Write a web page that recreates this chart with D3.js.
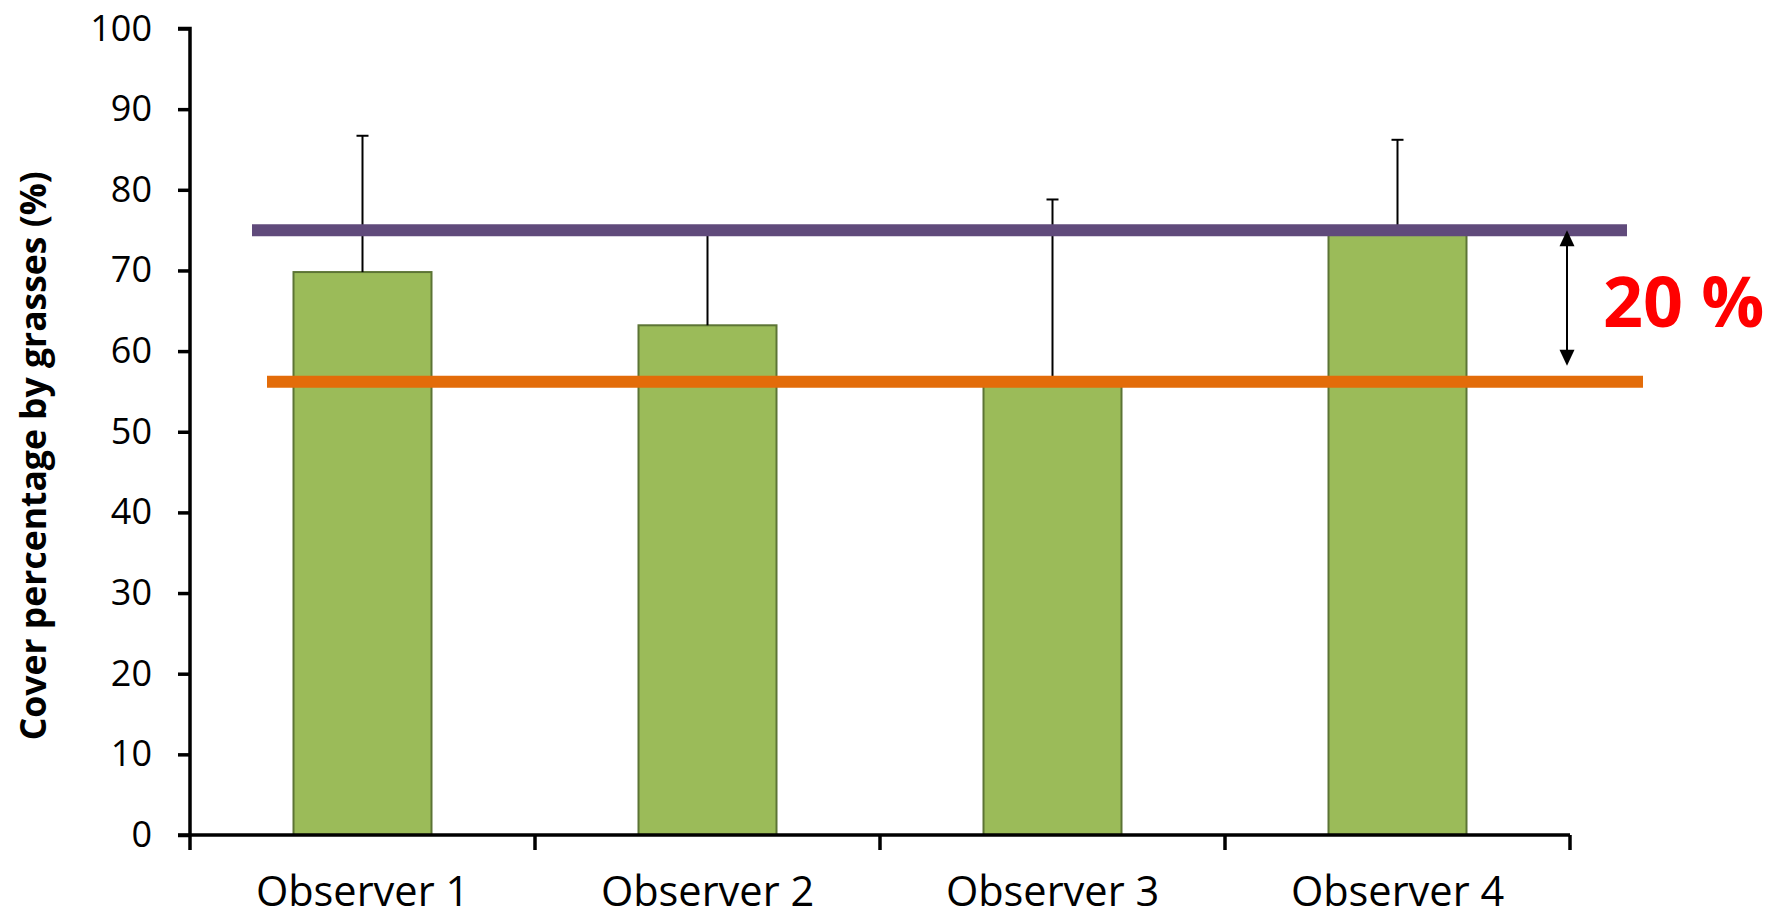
<!DOCTYPE html>
<html>
<head>
<meta charset="utf-8">
<script src="https://cdn.jsdelivr.net/npm/d3@7"></script>
<style>
  html, body { margin: 0; padding: 0; background: #ffffff; }
  svg { display: block; }
</style>
</head>
<body>
<svg id="chart" width="1771" height="917"></svg>
<script>
// ---- data ----
const categories = ["Observer 1", "Observer 2", "Observer 3", "Observer 4"];
const coverValues = [69.8, 63.2, 56.0, 74.8];
const errorTops = [86.7, 75.0, 78.8, 86.2];
const yTicks = [0, 10, 20, 30, 40, 50, 60, 70, 80, 90, 100];
const upperLine = 75.0;
const lowerLine = 56.2;
const diffLabel = "20 %";
const yTitle = "Cover percentage by grasses (%)";

// ---- layout ----
const svg = d3.select("#chart");
const plotLeft = 190, plotRight = 1570, plotTop = 28.5, plotBottom = 835;
const FONT = "'Open Sans', 'Noto Sans', sans-serif";

const x = d3.scaleBand().domain(categories).range([plotLeft, plotRight]).padding(0);
const y = d3.scaleLinear().domain([0, 100]).range([plotBottom, plotTop]);
const barW = x.bandwidth() * 0.4;

// bars
svg.append("g").selectAll("rect").data(categories).join("rect")
  .attr("x", d => x(d) + x.bandwidth() / 2 - barW / 2)
  .attr("y", (d, i) => y(coverValues[i]))
  .attr("width", barW)
  .attr("height", (d, i) => y(0) - y(coverValues[i]))
  .attr("fill", "#9BBB59")
  .attr("stroke", "#5C7435")
  .attr("stroke-width", 2);

// error bars
const eb = svg.append("g").attr("stroke", "#000").attr("stroke-width", 2);
categories.forEach((c, i) => {
  const cx = x(c) + x.bandwidth() / 2;
  eb.append("line").attr("x1", cx).attr("x2", cx)
    .attr("y1", y(coverValues[i])).attr("y2", y(errorTops[i]));
  eb.append("line").attr("x1", cx - 6).attr("x2", cx + 6)
    .attr("y1", y(errorTops[i])).attr("y2", y(errorTops[i]));
});

// reference lines
svg.append("line")
  .attr("x1", 252).attr("x2", 1627)
  .attr("y1", y(upperLine)).attr("y2", y(upperLine))
  .attr("stroke", "#604A7B").attr("stroke-width", 12);
svg.append("line")
  .attr("x1", 267).attr("x2", 1643)
  .attr("y1", y(lowerLine)).attr("y2", y(lowerLine))
  .attr("stroke", "#E36C09").attr("stroke-width", 12);

// y axis
const yAxis = d3.axisLeft(y).tickValues(yTicks).tickSize(12).tickPadding(26)
  .tickFormat(d3.format("d"));
const gy = svg.append("g").attr("transform", `translate(${plotLeft},0)`).call(yAxis);
gy.select(".domain").attr("stroke", "#000").attr("stroke-width", 3.5)
  .attr("d", `M-12,${plotTop}H0V${plotBottom}`);
gy.selectAll(".tick line").attr("stroke", "#000").attr("stroke-width", 3.5);
gy.selectAll(".tick text").attr("font-family", FONT).attr("font-size", 36)
  .attr("fill", "#000");

// x axis (ticks at category boundaries)
const gx = svg.append("g").attr("transform", `translate(0,${plotBottom})`);
gx.append("line").attr("x1", plotLeft - 12).attr("x2", plotRight)
  .attr("y1", 0).attr("y2", 0)
  .attr("stroke", "#000").attr("stroke-width", 3.5);
const bounds = categories.map(c => x(c)).concat([x(categories[categories.length - 1]) + x.bandwidth()]);
gx.selectAll("line.xt").data(bounds).join("line").attr("class", "xt")
  .attr("x1", d => d).attr("x2", d => d)
  .attr("y1", 0).attr("y2", 15)
  .attr("stroke", "#000").attr("stroke-width", 3.5);
gx.selectAll("text").data(categories).join("text")
  .attr("x", d => x(d) + x.bandwidth() / 2)
  .attr("y", 71)
  .attr("text-anchor", "middle")
  .attr("font-family", FONT).attr("font-size", 41.5)
  .attr("fill", "#000")
  .text(d => d);

// y title
svg.append("text")
  .attr("transform", `translate(46,${(plotTop + plotBottom) / 2 + 24}) rotate(-90)`)
  .attr("text-anchor", "middle")
  .attr("font-family", FONT).attr("font-weight", "bold").attr("font-size", 35.5)
  .attr("fill", "#000")
  .text(yTitle);

// double-headed arrow
const ax = 1567;
const aTop = y(upperLine), aBot = y(lowerLine) - 16;
svg.append("line").attr("x1", ax).attr("x2", ax)
  .attr("y1", aTop + 14).attr("y2", aBot - 14)
  .attr("stroke", "#000").attr("stroke-width", 2);
svg.append("path")
  .attr("d", `M${ax},${aTop}L${ax - 7.5},${aTop + 16}L${ax + 7.5},${aTop + 16}Z`)
  .attr("fill", "#000");
svg.append("path")
  .attr("d", `M${ax},${aBot}L${ax - 7.5},${aBot - 16}L${ax + 7.5},${aBot - 16}Z`)
  .attr("fill", "#000");

// annotation
svg.append("text")
  .attr("x", 1603).attr("y", 327)
  .attr("font-family", FONT).attr("font-weight", "bold").attr("font-size", 70)
  .attr("fill", "#FF0000")
  .text(diffLabel);
</script>
</body>
</html>
